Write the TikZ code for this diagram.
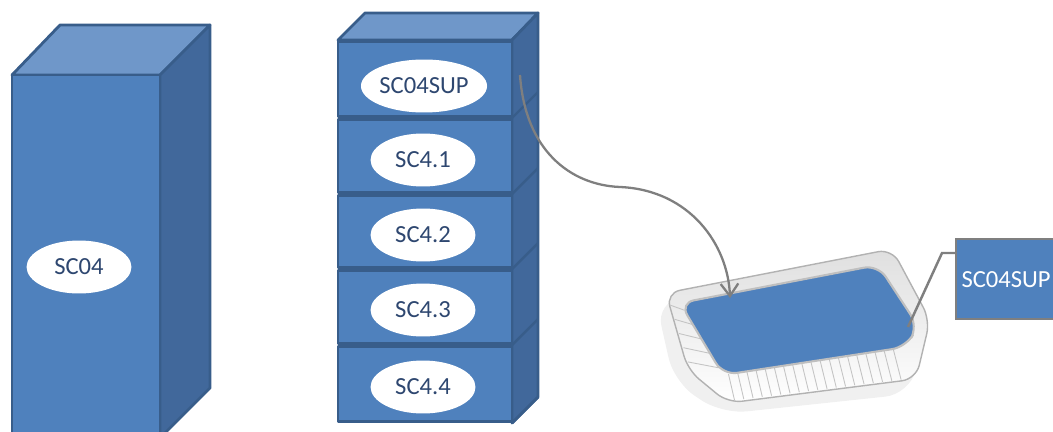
\documentclass[tikz,border=0pt]{standalone}
\usepackage{fontspec}
\setmainfont{Carlito}
\usetikzlibrary{shapes.geometric, arrows.meta, calc}

\definecolor{faceblue}{HTML}{4F81BD}
\definecolor{topblue}{HTML}{6F97C9}
\definecolor{sideblue}{HTML}{41689B}
\definecolor{edgeblue}{HTML}{385D8A}
\definecolor{tagtext}{HTML}{2E4770}
\definecolor{linegray}{HTML}{7F7F7F}
\definecolor{foil}{HTML}{C4C4C4}

\tikzstyle{face} = [fill=faceblue,
draw=edgeblue,
line width=1.6pt,
line join=round]
\tikzstyle{topface} = [face, fill=topblue]
\tikzstyle{sideface} = [face, fill=sideblue]
\tikzstyle{tag} = [ellipse,
fill=white,
minimum width=2.1cm,
minimum height=1.06cm,
inner sep=0pt,
text=tagtext,
font=\fontsize{14}{16}\selectfont]
\tikzstyle{callbox} = [rectangle,
fill=faceblue,
draw=linegray,
line width=1.4pt,
minimum height=1.6cm,
text width=2.3cm,
inner xsep=3pt,
align=left,
text=white,
font=\fontsize{14}{16}\selectfont]
\tikzstyle{arrow} = [draw=linegray, line width=1.3pt, -{Straight Barb[length=7pt,width=10pt]}]
\tikzstyle{rib} = [draw=foil, line width=0.5pt]

\begin{document}
\begin{tikzpicture}[x=0.02cm, y=-0.02cm]
\useasboundingbox (0,0) rectangle (1053,432);
\clip (0,0) rectangle (1053,432);

% single tall block
\draw[topface] (12,75) -- (60,25) -- (210,25) -- (160,75) -- cycle;
\draw[sideface] (160,75) -- (210,25) -- (210,388) -- (160,438) -- cycle;
\draw[face] (12,75) rectangle (160,438);
\node (sc) [tag] at (79,267) {SC04};

% block split in five slices
\draw[topface] (338,40) -- (365,13) -- (538,13) -- (512,40) -- cycle;
\draw[sideface] (512,40) -- (538,13) -- (538,397) -- (512,423) -- cycle;
\foreach \ya/\yb in {40/118, 118/194, 194/269, 269/345, 345/423}
{
  \draw[face] (338,\ya+1.5) rectangle (512,\yb-1.5);
  \draw[edgeblue, line width=1.4pt] (512,\yb) -- (538,\yb-26);
}
\node (sup) [tag] at (424,86) {SC04SUP};
\node (s1) [tag] at (423,160) {SC4.1};
\node (s2) [tag] at (423,235) {SC4.2};
\node (s3) [tag] at (423,310) {SC4.3};
\node (s4) [tag] at (423,387) {SC4.4};

% foil tray
\fill[gray!12, rounded corners=14] (656,302) -- (880,262) -- (926,330) -- (910,394) -- (722,414) -- (674,382) -- cycle;
\draw[draw=gray!60, line width=0.8pt, top color=gray!25, bottom color=white, rounded corners=8]
  (666,293) -- (892,249) -- (930,320) -- (916,379) -- (728,403) -- (688,370) -- cycle;
\foreach \t in {0.03,0.08,...,0.98}
  \draw[rib] ($(723,375)!\t!(906,347)$) -- ($(729,401)!\t!(914,378)$);
\foreach \t in {0.1,0.3,...,0.9}
  \draw[rib] ($(680,303)!\t!(723,375)$) -- ($(668,298)!\t!(690,369)$);
\draw[draw=gray!50, line width=1.2pt, fill=faceblue, rounded corners=8]
  (680,303) -- (878,265) -- (918,326) -- (906,347) -- (723,375) -- cycle;
\coordinate (dish) at (730,298);

% link from top slice into the tray
\coordinate (src) at (520,75);
\draw[arrow] (src) .. controls (525,150) and (570,185) .. (620,187)
  .. controls (690,190) and (728,245) .. (dish);

% label box with pointer
\node (lbl) [callbox, anchor=north west] at (955,238) {SC04SUP};
\coordinate (knee) at (942,253);
\coordinate (tip) at (908,327);
\draw[linegray, line width=1.4pt] (knee -| lbl.west) -- (knee) -- (tip);

\end{tikzpicture}
\end{document}
